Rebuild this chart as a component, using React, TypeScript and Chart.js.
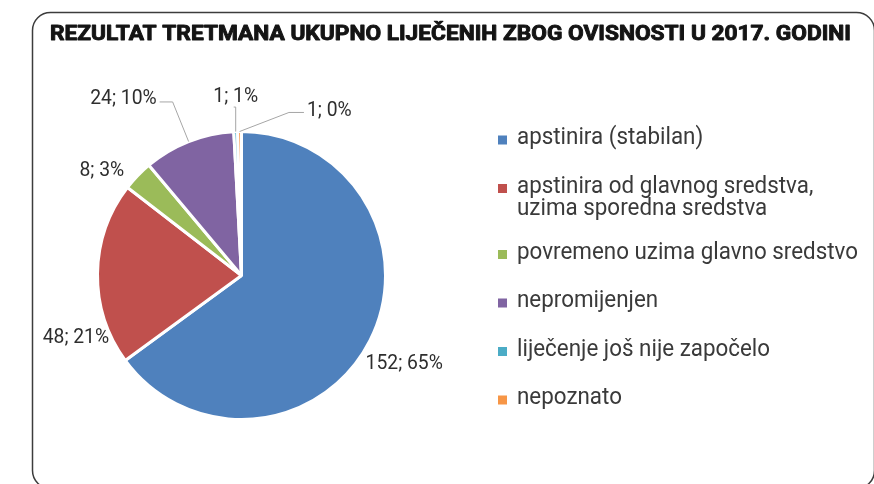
import React, { useEffect, useRef } from "react";
import { Chart, registerables } from "chart.js";

Chart.register(...registerables);

const TITLE = "REZULTAT TRETMANA UKUPNO LIJEČENIH ZBOG OVISNOSTI U 2017. GODINI";

const categories = [
  "apstinira (stabilan)",
  "apstinira od glavnog sredstva, uzima sporedna sredstva",
  "povremeno uzima glavno sredstvo",
  "nepromijenjen",
  "liječenje još nije započelo",
  "nepoznato",
];

const legendLines = [
  ["apstinira (stabilan)"],
  ["apstinira od glavnog sredstva,", "uzima sporedna sredstva"],
  ["povremeno uzima glavno sredstvo"],
  ["nepromijenjen"],
  ["liječenje još nije započelo"],
  ["nepoznato"],
];

const values = [152, 48, 8, 24, 1, 1];
const percentages = [65, 21, 3, 10, 1, 0];
const colors = ["#4F81BD", "#C0504D", "#9BBB59", "#8064A2", "#4BACC6", "#F79646"];

// label placement relative to pie centre, in units of the pie radius
const LABEL_POS: [number, number][] = [
  [1.13, 0.6],
  [-1.15, 0.42],
  [-0.97, -0.74],
  [-0.82, -1.24],
  [-0.04, -1.26],
  [0.61, -1.16],
];
const LEADER: (string | null)[] = [null, null, null, "right", "below", "left"];

const overlayPlugin = {
  id: "overlay",
  afterDraw(chart: any) {
    const ctx: CanvasRenderingContext2D = chart.ctx;
    ctx.save();

    // frame
    ctx.strokeStyle = "#3c3c3c";
    ctx.lineWidth = 1.5;
    ctx.beginPath();
    (ctx as any).roundRect(32.5, 12.5, 842, 476, 18);
    ctx.stroke();

    // title
    ctx.fillStyle = "#141414";
    ctx.strokeStyle = "#141414";
    ctx.lineWidth = 0.9;
    ctx.lineJoin = "round";
    ctx.font = "bold 20px Roboto";
    ctx.textAlign = "left";
    ctx.textBaseline = "alphabetic";
    const tw = ctx.measureText(TITLE).width;
    ctx.save();
    ctx.translate(50, 40);
    ctx.scale(801 / tw, 1);
    ctx.fillText(TITLE, 0, 0);
    ctx.strokeText(TITLE, 0, 0);
    ctx.restore();

    // legend
    ctx.font = "24px Roboto";
    const legScale = 341 / ctx.measureText("povremeno uzima glavno sredstvo").width;
    let y = 144;
    legendLines.forEach((lines, i) => {
      ctx.fillStyle = colors[i];
      ctx.fillRect(498, y - 8.5, 9, 9);
      ctx.fillStyle = "#3a3a3a";
      lines.forEach((ln, j) => {
        ctx.save();
        ctx.translate(517, y + j * 22);
        ctx.scale(legScale, 1);
        ctx.fillText(ln, 0, 0);
        ctx.restore();
      });
      y += 48.5 + (lines.length - 1) * 17.5;
    });

    // data labels
    const meta = chart.getDatasetMeta(0);
    const lblScale = 0.92;
    ctx.font = "21px Roboto";
    meta.data.forEach((arc: any, i: number) => {
      const p = arc.getProps(["x", "y", "startAngle", "endAngle", "outerRadius"], true);
      const r = p.outerRadius;
      const mid = (p.startAngle + p.endAngle) / 2;
      const ax = p.x + Math.cos(mid) * r;
      const ay = p.y + Math.sin(mid) * r;
      const cx = p.x + LABEL_POS[i][0] * r;
      const cy = p.y + LABEL_POS[i][1] * r;
      const text = `${values[i]}; ${percentages[i]}%`;
      const w = ctx.measureText(text).width * lblScale;

      const lead = LEADER[i];
      if (lead) {
        ctx.strokeStyle = "#a6a6a6";
        ctx.lineWidth = 1;
        ctx.beginPath();
        if (lead === "right") {
          const ex = cx + w / 2 + 3;
          const ly = cy + 5;
          ctx.moveTo(ex, ly);
          ctx.lineTo(ex + 13, ly);
          ctx.lineTo(ax, ay);
        } else if (lead === "left") {
          const ex = cx - w / 2 - 3;
          const ly = cy + 4;
          ctx.moveTo(ex, ly);
          ctx.lineTo(ex - 15, ly);
          ctx.lineTo(ax, ay);
        } else {
          const ly = cy + 13;
          ctx.moveTo(ax - 2, ly);
          ctx.lineTo(ax, ly);
          ctx.lineTo(ax, ay);
        }
        ctx.stroke();
      }

      ctx.fillStyle = "#2e2e2e";
      ctx.textAlign = "center";
      ctx.save();
      ctx.translate(cx, cy + 7.5);
      ctx.scale(lblScale, 1);
      ctx.fillText(text, 0, 0);
      ctx.restore();
      ctx.textAlign = "left";
    });

    ctx.restore();
  },
};

export default function App() {
  const ref = useRef<HTMLCanvasElement | null>(null);

  useEffect(() => {
    if (!ref.current) return;
    const chart = new Chart(ref.current, {
      type: "pie",
      data: {
        labels: categories,
        datasets: [
          {
            data: values,
            backgroundColor: colors,
            borderColor: "#ffffff",
            borderWidth: 3,
          },
        ],
      },
      options: {
        responsive: false,
        animation: false,
        devicePixelRatio: 1,
        layout: { padding: { left: 96, right: 487, top: 130, bottom: 63 } },
        plugins: {
          legend: { display: false },
          tooltip: { enabled: false },
          title: { display: false },
        },
      },
      plugins: [overlayPlugin],
    });
    return () => chart.destroy();
  }, []);

  return (
    <div style={{ position: "fixed", left: 0, top: 0, width: 874, height: 484, background: "#fff" }}>
      <canvas ref={ref} width={874} height={484} style={{ display: "block" }} />
    </div>
  );
}
